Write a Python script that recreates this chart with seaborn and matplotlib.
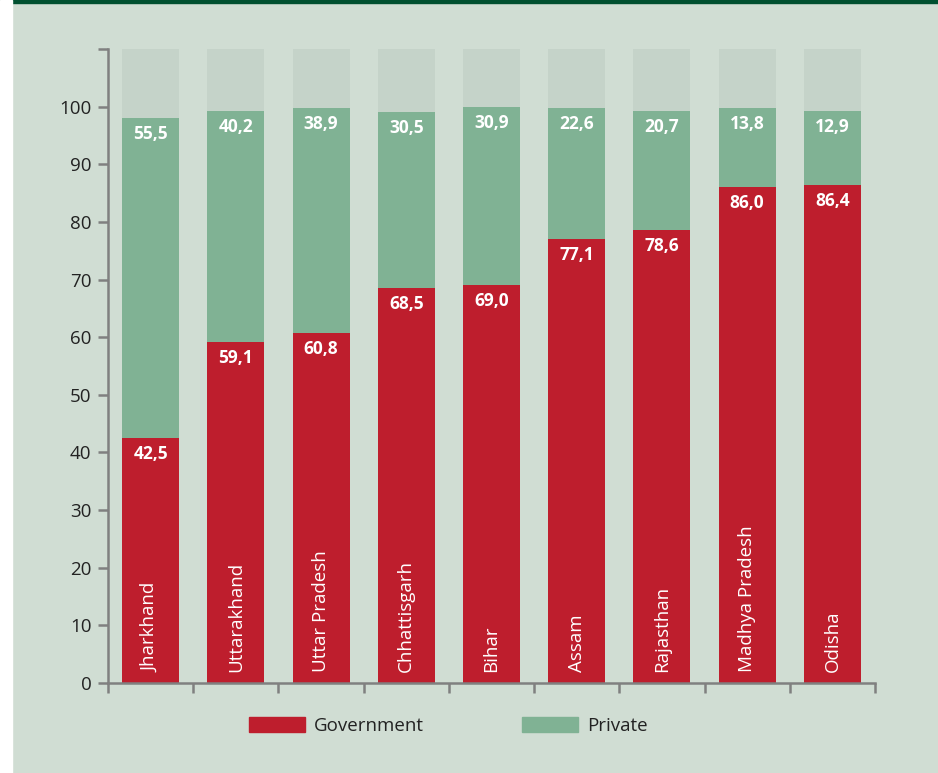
import matplotlib
matplotlib.use("Agg")
import matplotlib.pyplot as plt
import matplotlib.patches as mpatches
import numpy as np
import pandas as pd
import seaborn as sns

# data
states = ['Jharkhand', 'Uttarakhand', 'Uttar Pradesh', 'Chhattisgarh', 'Bihar',
          'Assam', 'Rajasthan', 'Madhya Pradesh', 'Odisha']
government = [42.5, 59.1, 60.8, 68.5, 69.0, 77.1, 78.6, 86.0, 86.4]
private = [55.5, 40.2, 38.9, 30.5, 30.9, 22.6, 20.7, 13.8, 12.9]
y_max = 110

bg = '#d0ddd3'
red = '#be1e2d'
green = '#80b294'
grey_bar = '#c5d3c9'
axis_col = '#808080'

sns.set_style('white')
plt.rcParams['font.family'] = ['Open Sans', 'DejaVu Sans']

df = pd.DataFrame({'state': states, 'gov': government, 'priv': private})
df['total'] = df['gov'] + df['priv']
df['full'] = y_max

fig = plt.figure(figsize=(9.38, 7.73), dpi=100, facecolor=bg)
ax = fig.add_axes([108/938, 1-683/773, (875-108)/938, (683-49)/773])
ax.set_facecolor(bg)

# background bars, private (stacked as total), government on top
sns.barplot(data=df, x='state', y='full', color=grey_bar, width=0.67, ax=ax,
            saturation=1, edgecolor='none')
sns.barplot(data=df, x='state', y='total', color=green, width=0.67, ax=ax,
            saturation=1, edgecolor='none')
sns.barplot(data=df, x='state', y='gov', color=red, width=0.67, ax=ax,
            saturation=1, edgecolor='none')

ax.set_xlim(-0.5, len(states) - 0.5)
ax.set_ylim(0, y_max)
ax.set_xlabel('')
ax.set_ylabel('')

# value labels
for i, row in df.iterrows():
    ax.annotate(f"{row['gov']:.1f}".replace('.', ','), (i, row['gov']),
                xytext=(0, -5), textcoords='offset points', ha='center', va='top',
                color='white', fontsize=12.5, fontweight='bold')
    ax.annotate(f"{row['priv']:.1f}".replace('.', ','), (i, row['total']),
                xytext=(0, -5), textcoords='offset points', ha='center', va='top',
                color='white', fontsize=12.5, fontweight='bold')
    ax.annotate(row['state'], (i, 0), xytext=(0, 8), textcoords='offset points',
                ha='center', va='bottom', rotation=90, color='white', fontsize=13.5)

# axes styling
yt = np.arange(0, y_max + 1, 10)
ax.set_yticks(yt)
ax.set_yticklabels([str(v) if v <= 100 else '' for v in yt])
ax.set_xticks([])
ax.set_xticks(np.arange(-0.5, len(states), 1), minor=True)
ax.tick_params(axis='y', direction='out', length=7, width=1.8, color=axis_col,
               labelsize=13.5, labelcolor='#222222', pad=5, left=True)
ax.tick_params(axis='x', which='minor', direction='out', length=7, width=1.8,
               color=axis_col, bottom=True)
for side in ['top', 'right']:
    ax.spines[side].set_visible(False)
for side in ['left', 'bottom']:
    ax.spines[side].set_color(axis_col)
    ax.spines[side].set_linewidth(1.8)

# legend
handles = [mpatches.Patch(color=red, label='Government'),
           mpatches.Patch(color=green, label='Private')]
fig.legend(handles=handles, loc='center', bbox_to_anchor=(0.478, 1-726/773),
           ncol=2, frameon=False, fontsize=13.5, handlelength=3.0, handleheight=0.9,
           handletextpad=0.5, columnspacing=5.2, labelcolor='#222222')

# frame decorations: dark green top rule and white left strip
fig.patches.append(mpatches.Rectangle((0, 1-3/773), 1, 3/773, transform=fig.transFigure,
                                      color='#005030', zorder=5))
fig.patches.append(mpatches.Rectangle((0, 0), 12/938, 1, transform=fig.transFigure,
                                      color='white', zorder=5))

fig.savefig('out.png', dpi=100, facecolor=bg)
